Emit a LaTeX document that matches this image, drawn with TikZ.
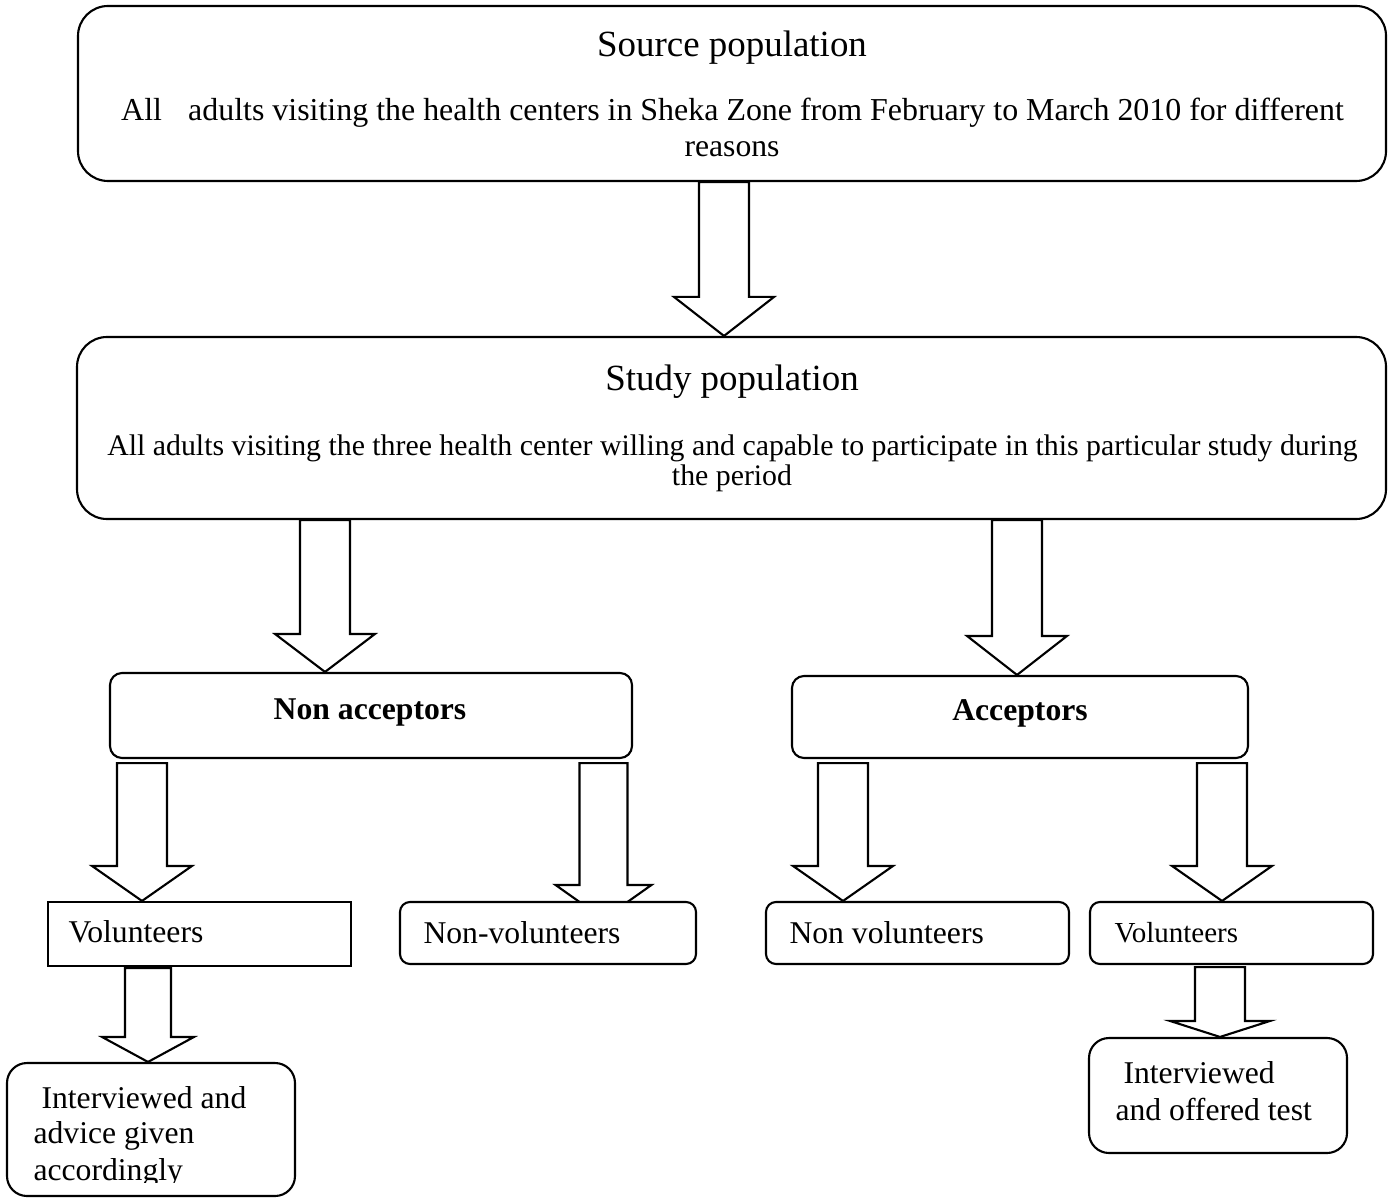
\documentclass[tikz,border=0pt]{standalone}
\usepackage{fontspec}
\setmainfont{Liberation Serif}
\usetikzlibrary{calc,backgrounds}

\newlength\pxu
\setlength\pxu{0.379pt}

% hollow block arrow: [shaft half width] x, from, to, head length
\newcommand{\fatarrow}[5][25]{%
  \draw[flowarrow] let \p1=(#3), \p2=(#4) in
    ({#2-#1},\y1) -- ({#2-#1},{\y2+#5*\pxu}) -- ({#2-2*#1},{\y2+#5*\pxu})
    -- (#2,\y2) -- ({#2+2*#1},{\y2+#5*\pxu}) -- ({#2+#1},{\y2+#5*\pxu})
    -- ({#2+#1},\y1) -- cycle;
}

\begin{document}
\begin{tikzpicture}[x=\pxu, y=-\pxu,
    box/.style={draw, line width=0.8pt, fill=white, inner sep=0pt},
    txt/.style={inner sep=0pt, font=\fontsize{12pt}{14pt}\selectfont},
    smalltxt/.style={inner sep=0pt, font=\fontsize{11.3pt}{13pt}\selectfont},
    titletxt/.style={inner sep=0pt, font=\fontsize{14pt}{17pt}\selectfont},
    flowarrow/.style={draw, line width=0.8pt, fill=white}]
    \useasboundingbox (0,0) rectangle (1388,1198);

    % boxes
    \node[box, rounded corners=30\pxu, minimum width=1308\pxu, minimum height=175\pxu] (src) at (732,93.5) {};
    \node[box, rounded corners=30\pxu, minimum width=1309\pxu, minimum height=182\pxu] (study) at (731.5,428) {};
    \node[box, rounded corners=12\pxu, minimum width=522\pxu, minimum height=85\pxu] (nonacc) at (371,715.5) {};
    \node[box, rounded corners=12\pxu, minimum width=456\pxu, minimum height=82\pxu] (acc) at (1020,717) {};
    \node[box, minimum width=303\pxu, minimum height=64\pxu] (vol1) at (199.5,934) {};
    \node[box, rounded corners=10\pxu, minimum width=296\pxu, minimum height=62\pxu] (nonvol) at (548,933) {};
    \node[box, rounded corners=10\pxu, minimum width=303\pxu, minimum height=62\pxu] (nonvol2) at (917.5,933) {};
    \node[box, rounded corners=10\pxu, minimum width=283\pxu, minimum height=62\pxu] (vol2) at (1231.5,933) {};
    \node[box, rounded corners=20\pxu, minimum width=288\pxu, minimum height=133\pxu] (advice) at (151,1129.5) {};
    \node[box, rounded corners=20\pxu, minimum width=258\pxu, minimum height=115\pxu] (offered) at (1218,1095.5) {};
    \coordinate (nvtip) at ($(nonvol.north)+(0,18)$);

    % texts
    \node[titletxt, anchor=base] (srctitle) at (732,57) {Source population};
    \node[txt, anchor=base, font=\fontsize{12.1pt}{14pt}\selectfont] (srcline) at (732.5,121) {All\hspace{6.9pt} adults visiting the health centers in Sheka Zone from February to March 2010 for different};
    \node[txt, anchor=base] (srcreason) at (732,157) {reasons};
    \node[titletxt, anchor=base] (studytitle) at (732,390) {Study population};
    \node[smalltxt, anchor=base] (studyline) at (732.5,455) {All adults visiting the three health center willing and capable to participate in this particular study during};
    \node[smalltxt, anchor=base] (studyperiod) at (732,485) {the period};
    \node[txt, anchor=base, font=\fontsize{12pt}{14pt}\selectfont\bfseries] (nonacctxt) at (370,719) {Non acceptors};
    \node[txt, anchor=base, font=\fontsize{12pt}{14pt}\selectfont\bfseries] (acctxt) at (1020,720) {Acceptors};
    \node[txt, anchor=base west] (vol1txt) at (68,942) {Volunteers};
    \node[txt, anchor=base west] (nonvoltxt) at (423,943) {Non-volunteers};
    \node[txt, anchor=base west] (nonvol2txt) at (789,943) {Non volunteers};
    \node[txt, anchor=base west, font=\fontsize{11pt}{13pt}\selectfont] (vol2txt) at (1114,942) {Volunteers};
    \node[txt, anchor=base west] (advicea) at (41,1108) {Interviewed and};
    \node[txt, anchor=base west] (adviceb) at (33,1143) {advice given};
    \begin{scope}
        \clip (0,1150) rectangle (300,1182);
        \node[txt, anchor=base west] (advicec) at (33,1180) {accordingly};
    \end{scope}
    \node[txt, anchor=base west] (offereda) at (1123,1083) {Interviewed};
    \node[txt, anchor=base west] (offeredb) at (1115,1120) {and offered test};

    % arrows
    \begin{pgfonlayer}{background}
        \fatarrow{724}{src.south}{study.north}{39}
        \fatarrow{325}{study.south}{nonacc.north}{38}
        \fatarrow{1017}{study.south}{acc.north}{39}
        \fatarrow{142}{$(nonacc.south)+(0,4)$}{vol1.north}{35}
        \fatarrow[24]{603.5}{$(nonacc.south)+(0,4)$}{nvtip}{34}
        \fatarrow{843}{$(acc.south)+(0,4)$}{nonvol2.north}{35}
        \fatarrow{1222}{$(acc.south)+(0,4)$}{vol2.north}{35}
        \fatarrow[23]{148}{$(vol1.south)+(0,1)$}{advice.north}{25}
        \fatarrow{1220}{$(vol2.south)+(0,2)$}{offered.north}{16}
    \end{pgfonlayer}
\end{tikzpicture}
\end{document}
